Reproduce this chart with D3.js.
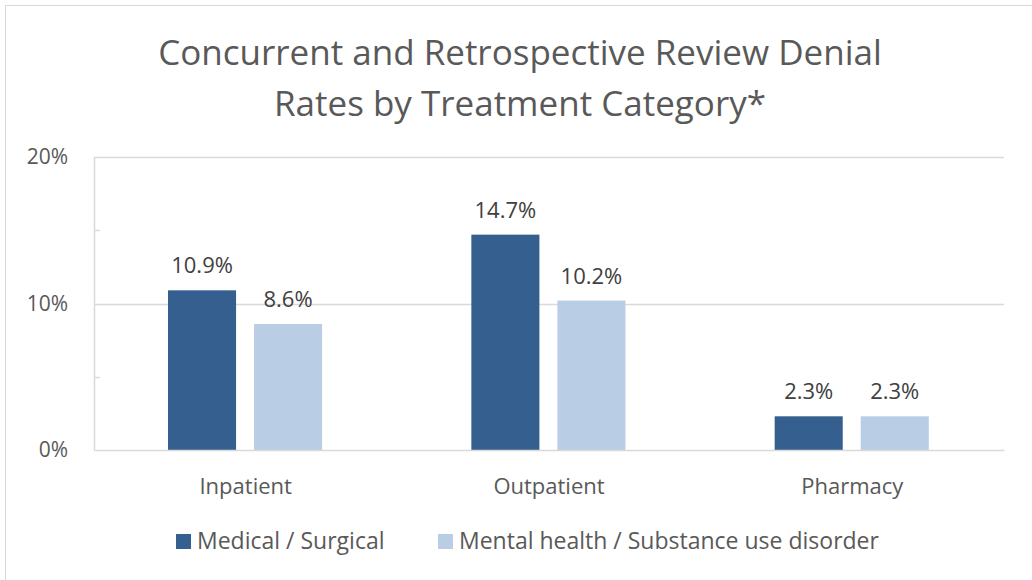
<!DOCTYPE html>
<html><head><meta charset="utf-8">
<script src="https://cdn.jsdelivr.net/npm/d3@7"></script>
<style>body{margin:0;background:#fff}svg{display:block}text{font-family:"Open Sans",sans-serif}</style>
</head><body><svg id="c" width="1032" height="580"></svg>
<script>
const categories = ["Inpatient", "Outpatient", "Pharmacy"];
const seriesNames = ["Medical / Surgical", "Mental health / Substance use disorder"];
const medSurg = [10.9, 14.7, 2.3];
const mentalHealth = [8.6, 10.2, 2.3];
const yTicks = [0, 10, 20];
const minorTicks = [5, 15];
const colors = ["#355f8f", "#b9cde5"];
const titleLines = ["Concurrent and Retrospective Review Denial", "Rates by Treatment Category*"];

(function(){
const svg = d3.select("#c");
svg.append("rect").attr("x",5.5).attr("y",5.5).attr("width",1040).attr("height",590)
  .attr("fill","none").attr("stroke","#d9d9d9");

const pL=94, pR=1004, pT=157, pB=450;
const x = d3.scaleBand().domain(categories).range([pL,pR]).paddingInner(0).paddingOuter(0);
const y = d3.scaleLinear().domain([0,20]).range([pB,pT]);
const bw = x.bandwidth();
const x1 = d3.scaleBand().domain([0,1]).range([bw*0.244, bw*0.752]).paddingInner(0.209).paddingOuter(0);

svg.append("g").selectAll("text").data(titleLines).join("text")
  .attr("x",520).attr("y",(d,i)=>65+i*51).attr("text-anchor","middle")
  .attr("font-size",35).attr("fill","#595959").text(d=>d);

svg.append("g").selectAll("line").data(yTicks.filter(d=>d>0)).join("line")
  .attr("x1",pL).attr("x2",pR).attr("y1",d=>Math.round(y(d))+0.5).attr("y2",d=>Math.round(y(d))+0.5)
  .attr("stroke","#d9d9d9").attr("stroke-width",1.5);

const yAxis = d3.axisLeft(y).tickValues(yTicks).tickFormat(d=>d+"%").tickSize(0).tickPadding(26);
const ga = svg.append("g").attr("transform",`translate(${pL},0)`).call(yAxis);
ga.select(".domain").attr("stroke","#d9d9d9").attr("stroke-width",1.5);
ga.selectAll("text").attr("font-size",21).attr("fill","#595959").attr("font-family","Open Sans");
svg.append("g").selectAll("line").data(minorTicks).join("line")
  .attr("x1",pL).attr("x2",pL+6).attr("y1",d=>Math.round(y(d))+0.5).attr("y2",d=>Math.round(y(d))+0.5)
  .attr("stroke","#d9d9d9").attr("stroke-width",1.5);

const data = categories.map((c,i)=>({c, vals:[medSurg[i], mentalHealth[i]]}));
const g = svg.append("g").selectAll("g").data(data).join("g").attr("transform",d=>`translate(${x(d.c)},0)`);
g.selectAll("rect").data(d=>d.vals).join("rect")
  .attr("x",(d,i)=>x1(i)).attr("width",x1.bandwidth())
  .attr("y",d=>y(d)).attr("height",d=>pB-y(d))
  .attr("fill",(d,i)=>colors[i]);
g.selectAll("text").data(d=>d.vals).join("text")
  .attr("x",(d,i)=>x1(i)+x1.bandwidth()/2).attr("y",d=>y(d)-17)
  .attr("text-anchor","middle").attr("font-size",22).attr("fill","#404040")
  .text(d=>d.toFixed(1)+"%");

const xAxis = d3.axisBottom(x).tickSize(0).tickPadding(28);
const gx = svg.append("g").attr("transform",`translate(0,${pB})`).call(xAxis);
gx.select(".domain").attr("stroke","#d9d9d9").attr("stroke-width",1.5);
gx.selectAll("text").attr("font-size",22).attr("fill","#595959").attr("font-family","Open Sans");

const legX = [176, 438];
const lg = svg.append("g").selectAll("g").data(seriesNames).join("g")
  .attr("transform",(d,i)=>`translate(${legX[i]},534)`);
lg.append("rect").attr("width",15).attr("height",15).attr("fill",(d,i)=>colors[i]);
lg.append("text").attr("x",21).attr("y",15).attr("font-size",23).attr("fill","#595959").text(d=>d);
})();
</script></body></html>
